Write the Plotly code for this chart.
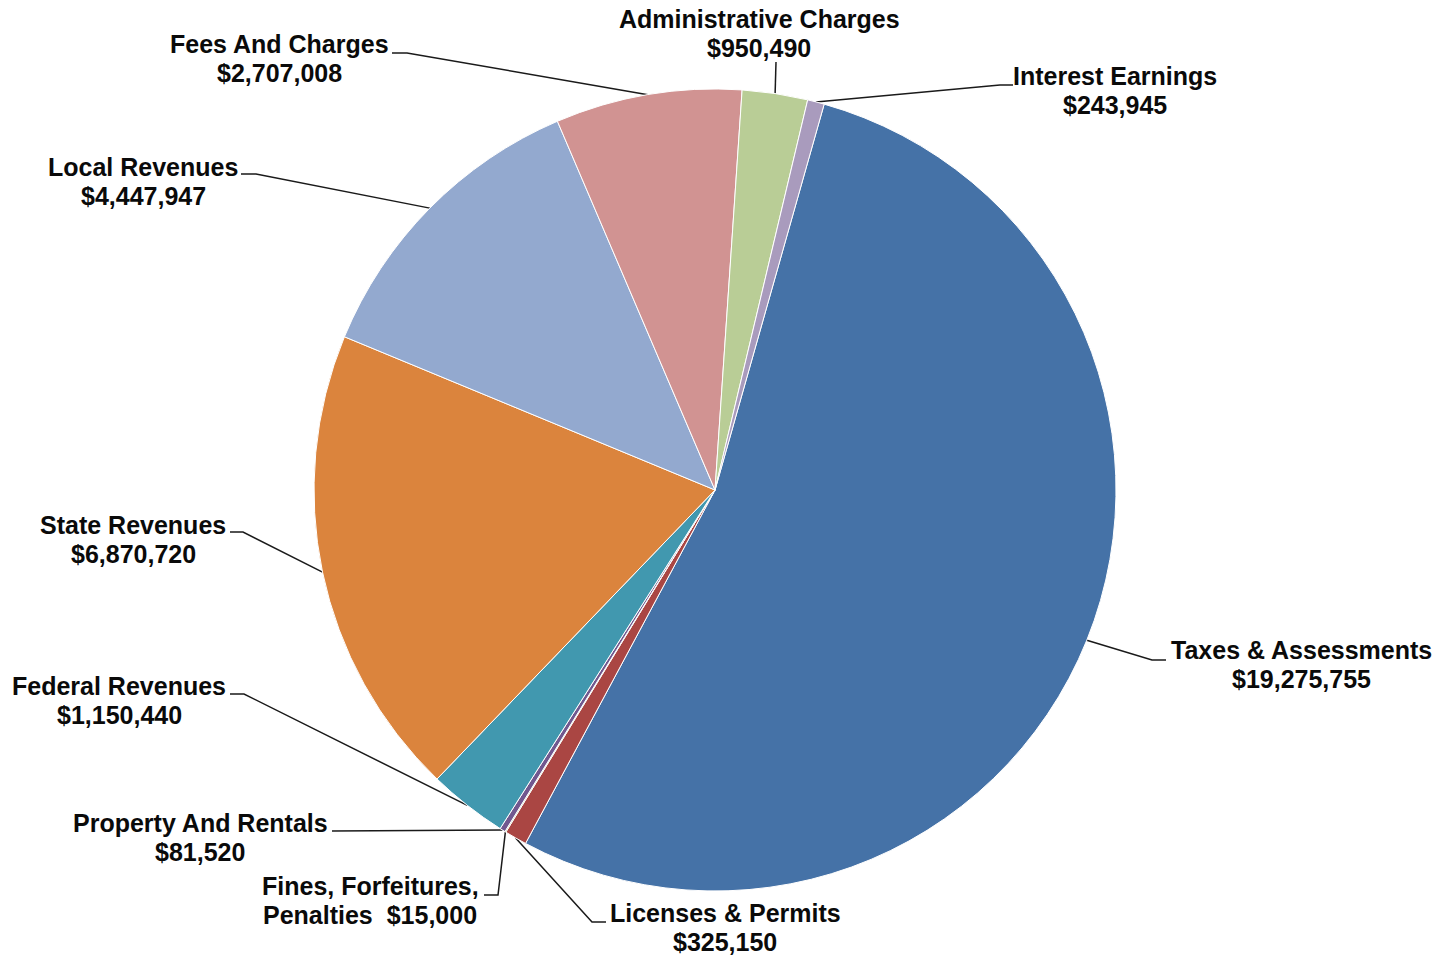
import math
import plotly.graph_objects as go

# ---- data ----
categories = ["Taxes & Assessments", "Licenses & Permits", "Fines, Forfeitures, Penalties",
              "Property And Rentals", "Federal Revenues", "State Revenues", "Local Revenues",
              "Fees And Charges", "Administrative Charges", "Interest Earnings"]
values = [19275755, 325150, 15000, 81520, 1150440, 6870720, 4447947, 2707008, 950490, 243945]
colors = ["#4572A7", "#AA4643", "#89A54E", "#71588F", "#4198AF", "#DB843D",
          "#93A9CF", "#D19392", "#B9CD96", "#A99BBD"]

# ---- layout (pixel coordinates of the 1441x958 canvas) ----
W, H = 1441, 958
CX, CY, R = 715, 490, 401
ROTATION = 15.8
# per label: center of first text line (x, y), elbow point, end point of leader
label_layout = [
    dict(tx=1301, ty=650, elbow=(1152, 660), end=(1166, 660)),
    dict(tx=725, ty=913, elbow=(592, 922), end=(606, 922)),
    dict(tx=370, ty=886, elbow=(498, 895), end=(484, 895)),
    dict(tx=200, ty=823, elbow=(345, 831), end=(332, 831)),
    dict(tx=119, ty=686, elbow=(244, 694), end=(230, 694)),
    dict(tx=133, ty=525, elbow=(243, 532), end=(230, 532)),
    dict(tx=143, ty=167, elbow=(256, 174), end=(241, 174)),
    dict(tx=279, ty=44, elbow=(407, 53), end=(392, 53)),
    dict(tx=759, ty=19, elbow=(776, 64), end=(776, 62)),
    dict(tx=1115, ty=76, elbow=(1000, 85), end=(1013, 85)),
]
LINE_GAP = 29
FONT = dict(family="Liberation Sans, Arial, sans-serif", size=25, color="#0a0a0a", weight="bold")


def money(v):
    return "$" + f"{v:,}"


def label_lines(i):
    cat, v = categories[i], values[i]
    if cat.startswith("Fines"):
        a, b, c = cat.split(", ")
        return [f"{a}, {b},", f"{c}\u00a0\u00a0{money(v)}"]
    return [cat, money(v)]


fig = go.Figure()

fig.add_trace(go.Pie(
    labels=categories, values=values, sort=False, direction="clockwise",
    rotation=ROTATION, textinfo="none", hoverinfo="label+value+percent",
    marker=dict(colors=colors, line=dict(color="white", width=1)),
    domain=dict(x=[(CX - R) / W, (CX + R) / W], y=[(H - CY - R) / H, (H - CY + R) / H]),
    showlegend=False,
))

total = sum(values)
cum = 0.0
annotations = []
for i, v in enumerate(values):
    mid = ROTATION + (cum + v / 2) / total * 360.0
    cum += v
    a = math.radians(mid)
    ex, ey = CX + R * math.sin(a), CY - R * math.cos(a)
    lay = label_layout[i]
    xs = [ex, lay["elbow"][0], lay["end"][0]]
    ys = [ey, lay["elbow"][1], lay["end"][1]]
    fig.add_trace(go.Scatter(x=xs, y=ys, mode="lines", line=dict(color="#1a1a1a", width=1.5),
                             hoverinfo="skip", showlegend=False))
    for k, t in enumerate(label_lines(i)):
        annotations.append(dict(x=lay["tx"], y=lay["ty"] + k * LINE_GAP, xref="x", yref="y",
                                text=t, showarrow=False, xanchor="center", yanchor="middle",
                                font=FONT))

fig.update_layout(
    width=W, height=H,
    margin=dict(l=0, r=0, t=0, b=0),
    paper_bgcolor="white", plot_bgcolor="rgba(0,0,0,0)",
    xaxis=dict(range=[0, W], visible=False, fixedrange=True),
    yaxis=dict(range=[H, 0], visible=False, fixedrange=True),
    annotations=annotations,
)

fig.write_html("out.html", config={"displayModeBar": False},
               post_script="document.body.style.margin='0px';document.body.style.overflow='hidden';")
